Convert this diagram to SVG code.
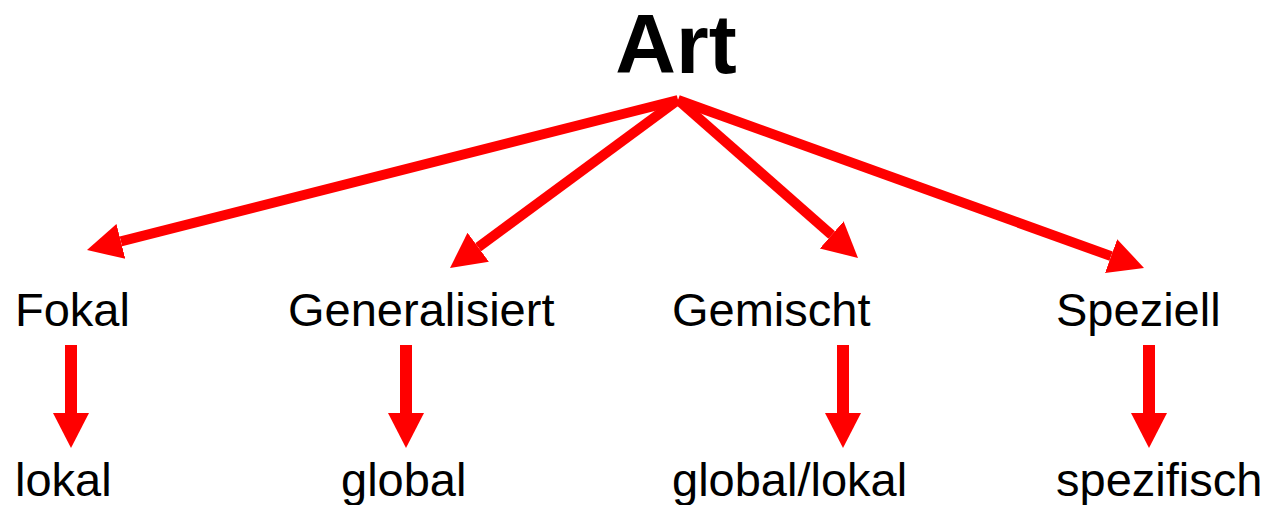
<svg xmlns="http://www.w3.org/2000/svg" width="1274" height="505" viewBox="0 0 1274 505">
<style>
.t{font-family:"Liberation Sans",Arial,sans-serif;font-size:47px;fill:#000}
.title{font-family:"Liberation Sans",Arial,sans-serif;font-size:84px;font-weight:bold;fill:#000}
.c{stroke:#ff0000;stroke-width:10;fill:none}
.v{stroke:#ff0000;stroke-width:12;fill:none}
</style>
<defs>
<marker id="ah" markerUnits="userSpaceOnUse" markerWidth="40" markerHeight="40" viewBox="0 -20 40 40" refX="0" refY="0" orient="auto">
<path d="M0,-18 L35,0 L0,18 Z" fill="#ff0000"/>
</marker>
</defs>
<rect width="1274" height="505" fill="#ffffff"/>
<g id="connectors">
<line class="c" x1="678" y1="100" x2="120.9" y2="241.4" marker-end="url(#ah)"/>
<line class="c" x1="678" y1="100" x2="478.2" y2="247.2" marker-end="url(#ah)"/>
<line class="c" x1="678" y1="100" x2="831.7" y2="234.9" marker-end="url(#ah)"/>
<line class="c" x1="678" y1="100" x2="1111.1" y2="256.1" marker-end="url(#ah)"/>
<line class="v" x1="71" y1="345" x2="71" y2="413" marker-end="url(#ah)"/>
<line class="v" x1="406" y1="345" x2="406" y2="413" marker-end="url(#ah)"/>
<line class="v" x1="843" y1="345" x2="843" y2="413" marker-end="url(#ah)"/>
<line class="v" x1="1149" y1="345" x2="1149" y2="413" marker-end="url(#ah)"/>
</g>
<g id="art"><text class="title" x="676" y="73" text-anchor="middle">Art</text></g>
<g id="fokal"><text class="t" x="15" y="326">Fokal</text></g>
<g id="generalisiert"><text class="t" x="288" y="326">Generalisiert</text></g>
<g id="gemischt"><text class="t" x="672" y="326">Gemischt</text></g>
<g id="speziell"><text class="t" x="1056" y="326">Speziell</text></g>
<g id="lokal"><text class="t" x="15" y="496">lokal</text></g>
<g id="global"><text class="t" x="341" y="496">global</text></g>
<g id="globallokal"><text class="t" x="672" y="496">global/lokal</text></g>
<g id="spezifisch"><text class="t" x="1056" y="496">spezifisch</text></g>
</svg>
